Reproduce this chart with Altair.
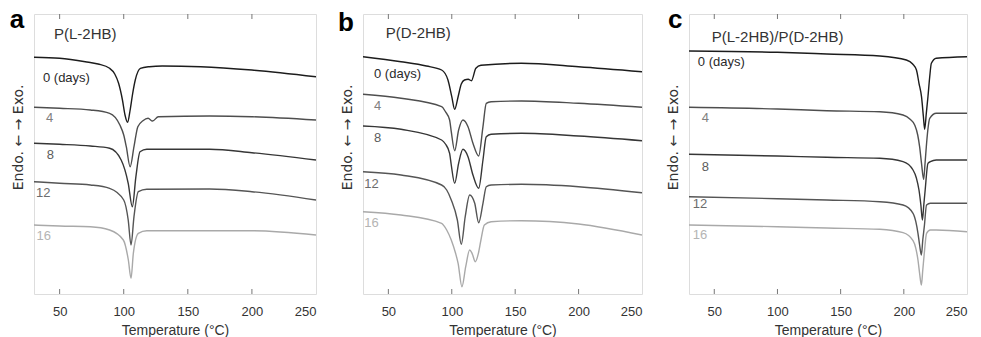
import altair as alt
import pandas as pd

# ---------------- data (heat flow in arbitrary units) -------------
DAYS = ["0", "4", "8", "12", "16"]
LINE_COLORS = ["#1c1c1c", "#4e4e4e", "#363636", "#555555", "#a9a9a9"]
LABEL_COLORS = ["#2a2a2a", "#808080", "#5c5c5c", "#6c6c6c", "#b4b4b4"]
DAY_TEXT = ["0 (days)", "4", "8", "12", "16"]
TICKS = [50, 100, 150, 200, 250]
INNER_TICKS = [50, 100, 150, 200]
YTITLE = "Endo. \u2190 \u2192 Exo."

# Panel a : P(L-2HB)
A0_T = [30, 50, 70, 80, 89, 93, 96, 99, 101, 103, 105, 107, 109, 113, 120, 130, 160, 200, 250]
A0_H = [236.7, 235.7, 232.3, 230, 225.7, 220, 210.7, 194, 179, 171.7, 184, 200.7, 214, 225.7, 227.3, 228, 227.3, 224, 217.3]
A4_T = [30, 50, 74, 89, 97, 100, 102, 105, 108, 111, 115, 119, 122.5, 127, 167, 200, 250]
A4_H = [186.7, 185.7, 184, 180.7, 169, 159, 147.3, 127.3, 147.3, 167.3, 173.3, 175.7, 173, 177.3, 178, 177.3, 174]
A8_T = [30, 50, 74, 89, 98, 103.5, 106.7, 109.5, 112.7, 118, 167, 200, 250]
A8_H = [150.7, 149.7, 148, 145.7, 134, 110.7, 87.3, 117.3, 142.3, 144.7, 144.7, 141.3, 134]
A12_T = [30, 50, 74, 89, 100, 103.5, 105.7, 108, 111.4, 118, 167, 200, 250]
A12_H = [112.3, 110.7, 109, 105.7, 94, 74, 49, 77.3, 102.3, 104.7, 105, 102.3, 94]
A16_T = [30, 50, 74, 89, 99.7, 103.6, 105.7, 107.5, 111.4, 118, 167, 200, 250]
A16_H = [69, 68, 67.3, 64, 54, 34, 15.7, 40.7, 60.7, 63.3, 63.3, 63.3, 59]

# Panel b : P(D-2HB)
B0_T = [30, 60, 80, 92, 97, 100, 102.3, 105, 107.5, 110, 113, 115.5, 119, 123, 155, 200, 250]
B0_H = [237.3, 232.3, 228, 224, 214, 197.3, 184.7, 197.3, 210, 214, 214.7, 213.3, 225.7, 228.7, 230.7, 227.3, 222.3]
B4_T = [30, 60, 92, 95, 98.3, 99.6, 102.3, 105.4, 108.8, 112.8, 116.7, 121.2, 124.6, 127.2, 131, 155, 200, 250]
B4_H = [199.7, 195.7, 187.3, 182.3, 174, 162.3, 143.3, 164, 174, 167.3, 150.7, 138, 167.3, 190.7, 192.3, 193, 190.7, 186.7]
B8_T = [30, 60, 92, 95, 98.3, 99.6, 102.3, 105.4, 108.8, 112.8, 116.7, 121.2, 124.6, 127.2, 131, 155, 200, 250]
B8_H = [168, 164.7, 154, 150, 140.7, 129, 110.7, 130.7, 144.7, 137.3, 119, 105.7, 134, 157.3, 159.7, 160.7, 158, 153.3]
B12_T = [30, 60, 92, 96, 99.6, 104.4, 107.5, 110.6, 114.1, 118.1, 121.2, 124.6, 127.2, 131, 155, 200, 250]
B12_H = [122.3, 119, 109, 104, 94, 74, 49.7, 77.3, 99, 90.7, 71.3, 90.7, 107.3, 109, 109.7, 107.3, 101.3]
B16_T = [30, 60, 92, 96, 99.6, 103, 105, 108, 111, 114.1, 116, 118.6, 121, 123, 125.7, 131, 155, 200, 250]
B16_H = [82.3, 79, 70.7, 64, 54, 40.7, 30.7, 7.3, 27.3, 44, 40.7, 32.3, 40.7, 54, 69, 72.3, 73.3, 70, 59]

# Panel c : P(L-2HB)/P(D-2HB)
C0_T = [30, 100, 139, 181, 202, 207, 210, 212, 214, 215.5, 216.5, 217.8, 219.1, 220.5, 221.8, 225.7, 250]
C0_H = [243, 241.7, 240, 238, 234, 230, 224, 210.7, 197.3, 177.3, 164.7, 180.7, 197.3, 217.3, 230.7, 235.7, 237.3]
C4_T = [30, 100, 139, 181, 199.4, 205, 208.6, 211, 212.5, 214, 215.7, 216.8, 217.8, 219, 220.5, 225.7, 250]
C4_H = [186.7, 185, 183.3, 182.3, 179, 174.7, 169, 159, 147.3, 130.7, 114.7, 130.7, 147.3, 164, 175.7, 180.7, 180.7]
C8_T = [30, 100, 139, 181, 199.4, 207.3, 210, 212, 213.5, 214.7, 215.8, 216.9, 219.1, 221, 225.7, 250]
C8_H = [139.7, 138, 136.7, 135.7, 132.3, 124, 115.7, 104, 89, 74, 89, 104, 130.7, 132.3, 134, 134]
C12_T = [30, 100, 139, 181, 199.4, 207.3, 209.5, 211.2, 212.5, 213.9, 215, 216.2, 218, 221, 225.7, 250]
C12_H = [97.3, 95.3, 94, 92.3, 89, 80.7, 72.3, 60.7, 49, 39, 54, 67.3, 89, 90.7, 90.7, 90.7]
C16_T = [30, 100, 139, 181, 199.4, 207.3, 209.5, 211.2, 212.5, 213.9, 215, 216.2, 218, 221, 225.7, 250]
C16_H = [69, 67.3, 66, 64.7, 61.3, 53.3, 45.7, 34, 20.7, 9, 24, 40.7, 60.7, 64, 64, 62.3]

# label anchor positions (T, heat flow) for the day labels of each panel
A_LAB_T = [37, 39.4, 40, 31.5, 32]
A_LAB_H = [216, 176, 139, 101, 58]
B_LAB_T = [38.7, 38.7, 38.7, 31, 31]
B_LAB_H = [220, 188, 156, 110, 71]
C_LAB_T = [37, 40, 40, 33, 33]
C_LAB_H = [232, 176, 127, 90, 59]

TITLES = ["P(L-2HB)", "P(D-2HB)", "P(L-2HB)/P(D-2HB)"]
TITLE_T = [45.6, 48, 48]
TITLE_H = [260, 261, 257]
LETTERS = ["a", "b", "c"]
LETTER_T = [11.0, 10.3, 13.4]
LETTER_H = [266, 263, 266]

FONT = "Liberation Sans"
YFONT = "DejaVu Sans"
H_PANEL = 280


def panel(curves, lab_t, lab_h, idx, width):
    rows = []
    for d, (ts, hs), col in zip(DAYS, curves, LINE_COLORS):
        for t, h in zip(ts, hs):
            rows.append({"T": t, "H": h, "day": d, "col": col})
    df = pd.DataFrame(rows)
    lab_df = pd.DataFrame({"T": lab_t, "H": lab_h, "text": DAY_TEXT, "col": LABEL_COLORS})
    title_df = pd.DataFrame({"T": [TITLE_T[idx]], "H": [TITLE_H[idx]], "text": [TITLES[idx]]})
    letter_df = pd.DataFrame({"T": [LETTER_T[idx]], "H": [LETTER_H[idx]], "text": [LETTERS[idx]]})
    tick_df = pd.DataFrame({"T": INNER_TICKS})

    x = alt.X("T:Q", scale=alt.Scale(domain=[30, 250], nice=False, zero=False),
              axis=alt.Axis(values=TICKS, ticks=False, tickSize=0, domain=False, grid=False,
                            labelFontSize=13, labelPadding=11, labelColor="#333",
                            title="Temperature (\u00b0C)", titleFontSize=14, titlePadding=5,
                            titleFontWeight="normal", titleColor="#333",
                            labelFont=FONT, titleFont=FONT))
    y = alt.Y("H:Q", scale=alt.Scale(domain=[0, H_PANEL], nice=False, zero=False),
              axis=alt.Axis(labels=False, ticks=False, domain=False, grid=False, title=YTITLE,
                            titleX=-16, titleY=123, titleAngle=270, titleBaseline="middle",
                            titleAlign="center", titleFontSize=14, titleFontWeight="normal",
                            titleColor="#333", titleFont=YFONT))

    lines = alt.Chart(df).mark_line(interpolate="monotone", strokeWidth=1.4, clip=True).encode(
        x=x, y=y, color=alt.Color("col:N", scale=None), detail="day:N")
    labels = alt.Chart(lab_df).mark_text(align="left", baseline="middle", fontSize=13, font=FONT).encode(
        x=x, y=y, text="text:N", color=alt.Color("col:N", scale=None))
    title = alt.Chart(title_df).mark_text(align="left", baseline="middle", fontSize=15, font=FONT,
                                          color="#333").encode(x=x, y=y, text="text:N")
    letter = alt.Chart(letter_df).mark_text(align="left", baseline="alphabetic", fontSize=26,
                                            fontWeight="bold", font=FONT, color="#000").encode(
        x=x, y=y, text="text:N")
    tick_bot = alt.Chart(tick_df).mark_rule(color="#777", strokeWidth=1).encode(
        x=x, y=alt.value(H_PANEL), y2=alt.value(H_PANEL - 5))
    tick_top = alt.Chart(tick_df).mark_rule(color="#777", strokeWidth=1).encode(
        x=x, y=alt.value(0), y2=alt.value(5))
    return alt.layer(tick_bot, tick_top, lines, labels, title, letter).properties(
        width=width, height=H_PANEL)


pa = panel([(A0_T, A0_H), (A4_T, A4_H), (A8_T, A8_H), (A12_T, A12_H), (A16_T, A16_H)],
           A_LAB_T, A_LAB_H, 0, 282)
pb = panel([(B0_T, B0_H), (B4_T, B4_H), (B8_T, B8_H), (B12_T, B12_H), (B16_T, B16_H)],
           B_LAB_T, B_LAB_H, 1, 279)
pc = panel([(C0_T, C0_H), (C4_T, C4_H), (C8_T, C8_H), (C12_T, C12_H), (C16_T, C16_H)],
           C_LAB_T, C_LAB_H, 2, 278)

chart = alt.hconcat(pa, pb, pc, spacing=47, bounds="flush").properties(
    autosize=alt.AutoSizeParams(type="none"),
    padding={"left": 34, "top": 14, "right": 947, "bottom": 323},
    background="white",
).configure_view(stroke="#555", strokeWidth=1.2).configure(font=FONT)

chart.save("out.html", embed_options={"renderer": "svg", "actions": False})
